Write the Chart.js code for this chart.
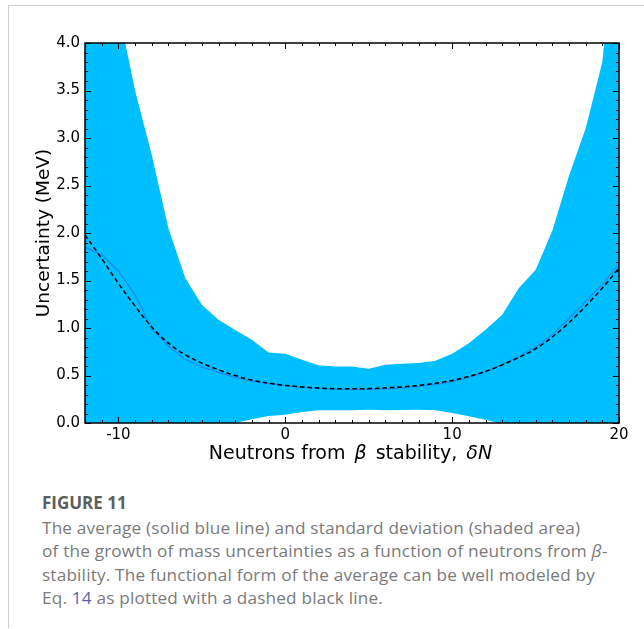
<!DOCTYPE html>
<html>
<head>
<meta charset="utf-8">
<script src="https://cdn.jsdelivr.net/npm/chart.js@4.4.1/dist/chart.umd.min.js"></script>
<style>
  body { margin: 0; background: #fff; }
  #wrap { position: relative; width: 644px; height: 629px; overflow: hidden; }
  #frame {
    position: absolute; left: 8px; top: 5px; width: 700px; height: 622px;
    border-top: 1px solid #cfcfcf; border-left: 1px solid #cfcfcf;
  }
  #plot { position: absolute; left: 0; top: 0; }
  #caption {
    position: absolute; left: 42px; top: 491px; width: 600px;
    font-family: "Open Sans", sans-serif; font-size: 17.2px; letter-spacing: 0.18px;
    line-height: 23.6px; color: #7a7a7a;
  }
  #caption .head { font-weight: 700; color: #5e5e5e; font-size: 17px; letter-spacing: 0; margin-bottom: 1px; }
  #caption .line { white-space: nowrap; }
  #caption .ref { color: #5b62ad; }
</style>
</head>
<body>
<div id="wrap">
  <div id="frame"></div>
  <canvas id="plot" width="644" height="470"></canvas>
  <div id="caption">
    <div class="head">FIGURE 11</div>
    <div class="line">The average (solid blue line) and standard deviation (shaded area)</div>
    <div class="line">of the growth of mass uncertainties as a function of neutrons from <i>β</i>-</div>
    <div class="line">stability. The functional form of the average can be well modeled by</div>
    <div class="line">Eq. <span class="ref">14</span> as plotted with a dashed black line.</div>
  </div>
</div>
<script>
// neutrons from beta stability
const deltaN = [-12, -11, -10, -9, -8, -7, -6, -5, -4, -3, -2, -1, 0, 1, 2, 3, 4, 5, 6, 7, 8, 9, 10, 11, 12, 13, 14, 15, 16, 17, 18, 19, 20];

// average uncertainty (solid blue)
const meanUnc = [1.85, 1.77, 1.60, 1.35, 0.99, 0.81, 0.67, 0.59, 0.533, 0.48, 0.44, 0.414, 0.393, 0.375, 0.365, 0.36, 0.355, 0.355, 0.36, 0.37, 0.385, 0.405, 0.435, 0.48, 0.54, 0.615, 0.70, 0.80, 0.93, 1.10, 1.28, 1.46, 1.67];

// fitted form, Eq. 14 (dashed black)
const modelUnc = [1.98, 1.73, 1.47, 1.23, 1.01, 0.84, 0.72, 0.63, 0.56, 0.50, 0.452, 0.42, 0.396, 0.38, 0.368, 0.361, 0.36, 0.362, 0.37, 0.38, 0.395, 0.418, 0.447, 0.49, 0.543, 0.612, 0.69, 0.78, 0.905, 1.055, 1.23, 1.42, 1.63];

// shaded area, mean +/- std
const upperBand = [6.0, 5.2, 4.35, 3.5, 2.82, 2.05, 1.53, 1.245, 1.087, 0.98, 0.877, 0.743, 0.73, 0.666, 0.607, 0.596, 0.596, 0.572, 0.614, 0.624, 0.632, 0.656, 0.73, 0.84, 0.982, 1.14, 1.42, 1.61, 2.02, 2.6, 3.1, 3.8, 5.5];
const lowerBand = [-2.3, -1.66, -1.15, -0.9, -0.78, -0.41, -0.19, -0.07, -0.02, 0.0, 0.04, 0.075, 0.088, 0.115, 0.135, 0.135, 0.135, 0.14, 0.135, 0.137, 0.14, 0.133, 0.105, 0.07, 0.035, -0.01, -0.1, -0.2, -0.3, -0.5, -0.6, -1.0, -2.2];

const xMajorTicks = [-10, 0, 10, 20];
const yMajorTicks = [0, 0.5, 1, 1.5, 2, 2.5, 3, 3.5, 4];

// x title pieces, [text, italic]
const xTitleParts = [["Neutrons from ", false], ["β", true], [" stability, ", false], ["δN", true]];

const toPoints = (arr) => arr.map((v, i) => ({ x: deltaN[i], y: v }));

const mplFont = "'DejaVu Sans', sans-serif";
Chart.defaults.font.family = mplFont;
Chart.defaults.color = "#000";

// inward ticks on all four sides plus the box, like matplotlib
const frameTicks = {
  id: "frameTicks",
  afterDraw(chart) {
    const { ctx, chartArea: a, scales } = chart;
    const x = scales.x, y = scales.y;
    ctx.save();
    ctx.strokeStyle = "#000";
    ctx.lineWidth = 1;
    ctx.beginPath();
    for (let v = x.min; v <= x.max; v++) {
      const px = Math.round(x.getPixelForValue(v)) + 0.5;
      const len = xMajorTicks.includes(v) ? 6 : 3;
      ctx.moveTo(px, a.bottom); ctx.lineTo(px, a.bottom - len);
      ctx.moveTo(px, a.top); ctx.lineTo(px, a.top + len);
    }
    for (let i = 0; i <= 40; i++) {
      const py = Math.round(y.getPixelForValue(i / 10)) + 0.5;
      const len = i % 5 === 0 ? 6 : 3;
      ctx.moveTo(a.left, py); ctx.lineTo(a.left + len, py);
      ctx.moveTo(a.right, py); ctx.lineTo(a.right - len, py);
    }
    ctx.stroke();
    ctx.lineWidth = 1.5;
    ctx.strokeRect(a.left, a.top, a.right - a.left, a.bottom - a.top);

    // x title with italic math parts
    const size = 19;
    const gap = 3;
    const fontOf = (it) => (it ? "italic " : "") + size + "px " + mplFont;
    let total = 0;
    const widths = xTitleParts.map(([t, it]) => {
      ctx.font = fontOf(it);
      const w = ctx.measureText(t).width + (it ? 2 * gap : 0);
      total += w;
      return w;
    });
    let cx = (a.left + a.right) / 2 - total / 2;
    ctx.fillStyle = "#000";
    ctx.textBaseline = "middle";
    ctx.textAlign = "left";
    xTitleParts.forEach(([t, it], i) => {
      ctx.font = fontOf(it);
      ctx.fillText(t, cx + (it ? gap : 0), 454);
      cx += widths[i];
    });
    ctx.restore();
  },
};

new Chart(document.getElementById("plot"), {
  type: "line",
  data: {
    datasets: [
      {
        label: "upper",
        data: toPoints(upperBand),
        borderWidth: 0,
        pointRadius: 0,
        backgroundColor: "rgb(0, 191, 255)",
        fill: "+1",
        order: 3,
      },
      {
        label: "lower",
        data: toPoints(lowerBand),
        borderWidth: 0,
        pointRadius: 0,
        fill: false,
        order: 3,
      },
      {
        label: "average",
        data: toPoints(meanUnc),
        borderColor: "rgb(25, 135, 245)",
        borderWidth: 1.2,
        pointRadius: 0,
        fill: false,
        order: 2,
      },
      {
        label: "Eq. 14",
        data: toPoints(modelUnc),
        borderColor: "#000",
        borderWidth: 1.5,
        borderDash: [4.5, 3],
        pointRadius: 0,
        cubicInterpolationMode: "monotone",
        fill: false,
        order: 1,
      },
    ],
  },
  options: {
    responsive: false,
    devicePixelRatio: 1,
    animation: false,
    layout: { padding: { left: 0, right: 25, top: 43, bottom: 0 } },
    plugins: { legend: { display: false }, tooltip: { enabled: false } },
    scales: {
      x: {
        type: "linear",
        min: -12,
        max: 20,
        afterBuildTicks: (scale) => {
          scale.ticks = xMajorTicks.map((v) => ({ value: v }));
        },
        afterFit: (scale) => { scale.height = 47; },
        grid: { display: false, drawTicks: false },
        border: { display: false },
        ticks: { font: { family: mplFont, size: 15 }, padding: 3, maxRotation: 0, callback: (v) => String(v) },
        title: { display: false },
      },
      y: {
        min: 0,
        max: 4,
        afterBuildTicks: (scale) => {
          scale.ticks = yMajorTicks.map((v) => ({ value: v }));
        },
        afterFit: (scale) => { scale.width = 85; },
        grid: { display: false, drawTicks: false },
        border: { display: false },
        ticks: { font: { family: mplFont, size: 15 }, padding: 5, callback: (v) => v.toFixed(1) },
        title: {
          display: true,
          text: "Uncertainty (MeV)",
          font: { family: mplFont, size: 18.5 },
          padding: { top: 33, bottom: 0 },
        },
      },
    },
  },
  plugins: [frameTicks],
});
</script>
</body>
</html>
